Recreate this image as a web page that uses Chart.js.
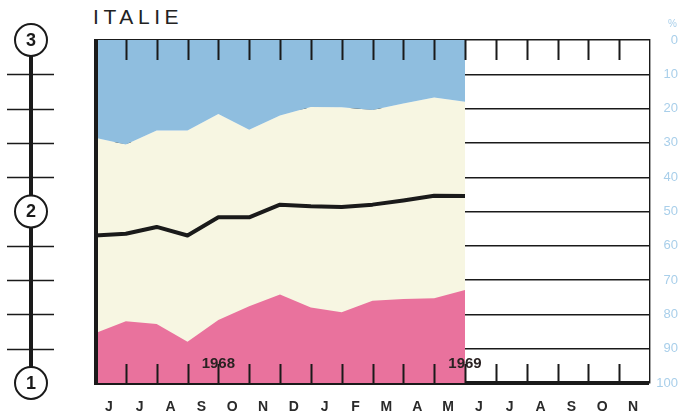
<!DOCTYPE html>
<html lang="fr">
<head>
<meta charset="UTF-8">
<title>Italie</title>
<script src="https://cdn.jsdelivr.net/npm/chart.js"></script>
<style>
body{margin:0;background:#fff;font-family:"Liberation Sans",Arial,Helvetica,sans-serif;}
.wrap{position:relative;width:691px;height:415px;}
.wrap h1{position:absolute;left:93px;top:5px;margin:0;font-size:21px;font-weight:normal;
         letter-spacing:4.6px;color:#222;line-height:24px;}
.wrap canvas{position:absolute;left:0;top:0;}
</style>
</head>
<body>
<div class="wrap">
  <h1>ITALIE</h1>
  <canvas id="c" width="691" height="415"></canvas>
</div>

<script>
Chart.defaults.animation=false;

/* ── data, x = month boundary index ──────────────────────────────── */
const MONTHS=["J","J","A","S","O","N","D","J","F","M","A","M","J","J","A","S","O","N"];
const BLUE =[28.5,30.5,26.4,26.4,21.6,26.2,22.0,19.5,19.6,20.4,18.5,16.8,18.0];  // top band lower edge
const BLACK=[57.0,56.5,54.5,57.0,51.7,51.7,48.0,48.5,48.7,48.0,46.8,45.4,45.5];
const PINK =[85.5,82.0,82.8,88.0,81.6,77.6,74.2,78.0,79.4,76.0,75.5,75.3,72.9];
const YEARS=["1968","1969"];
const YEAR_AT=[4,12];
const LEFT_LABELS=["3","2","1"];   // at 0, 50, 100 %
const Y_TICKS=[0,10,20,30,40,50,60,70,80,90,100];

const COLORS={blue:"#8fbedf",cream:"#f7f6e2",pink:"#e9729d",ink:"#1a1a1a",axis:"#a9cfea"};

const pts=arr=>arr.map((v,i)=>({x:i,y:v}));

/* ── decorations drawn from the scales ──────────────────────────── */
const deco={
  id:"deco",
  afterDraw(ch){
    const {ctx,chartArea:a,scales:{x,y}}=ch;
    ctx.save();
    // year labels
    ctx.fillStyle="#2a2222";
    ctx.font="bold 15px 'Liberation Sans',Arial,sans-serif";
    ctx.textAlign="center";ctx.textBaseline="middle";
    YEARS.forEach((t,i)=>ctx.fillText(t,x.getPixelForValue(YEAR_AT[i]),y.getPixelForValue(94.3)));
    // inner tick marks top and bottom
    ctx.strokeStyle=COLORS.ink;ctx.lineWidth=2;
    for(let i=1;i<MONTHS.length;i++){
      const px=Math.round(x.getPixelForValue(i))+0.5;
      ctx.beginPath();
      ctx.moveTo(px,a.top);ctx.lineTo(px,a.top+20);
      ctx.moveTo(px,a.bottom-19);ctx.lineTo(px,a.bottom);
      ctx.stroke();
    }
    // thick left border
    ctx.lineWidth=4;
    ctx.beginPath();ctx.moveTo(a.left+1,a.top-1);ctx.lineTo(a.left+1,a.bottom+2);ctx.stroke();
    // % sign above the right axis
    ctx.fillStyle=COLORS.axis;
    ctx.font="10px 'Liberation Sans',Arial,sans-serif";
    ctx.textAlign="right";
    ctx.fillText("%",677,y.getPixelForValue(0)-16);
    // left 1-2-3 scale
    const cx=31;
    ctx.strokeStyle=COLORS.ink;
    ctx.lineWidth=4;
    ctx.beginPath();ctx.moveTo(cx,y.getPixelForValue(0));ctx.lineTo(cx,y.getPixelForValue(100));ctx.stroke();
    ctx.lineWidth=1.6;
    Y_TICKS.forEach(v=>{
      if(v%50===0) return;
      const py=Math.round(y.getPixelForValue(v))+0.5;
      ctx.beginPath();ctx.moveTo(7,py);ctx.lineTo(54,py);ctx.stroke();
    });
    LEFT_LABELS.forEach((t,i)=>{
      const py=y.getPixelForValue(i*50);
      ctx.beginPath();ctx.arc(cx,py,16,0,Math.PI*2);
      ctx.fillStyle="#fff";ctx.fill();
      ctx.lineWidth=2;ctx.stroke();
      ctx.fillStyle=COLORS.ink;
      ctx.font="bold 18px 'Liberation Sans',Arial,sans-serif";
      ctx.textAlign="center";ctx.textBaseline="middle";
      ctx.fillText(t,cx,py+1);
    });
    ctx.restore();
  }
};

new Chart(document.getElementById("c"),{
  type:"line",
  data:{datasets:[
    {label:"cream",data:pts(BLUE),fill:{value:100},backgroundColor:COLORS.cream,borderWidth:0,pointRadius:0,order:4},
    {label:"blue", data:pts(BLUE),fill:{value:0},  backgroundColor:COLORS.blue, borderWidth:0,pointRadius:0,order:3},
    {label:"pink", data:pts(PINK),fill:{value:100},backgroundColor:COLORS.pink, borderWidth:0,pointRadius:0,order:2},
    {label:"black",data:pts(BLACK),fill:false,borderColor:COLORS.ink,borderWidth:4,
     borderJoinStyle:"round",pointRadius:0,order:1}
  ]},
  options:{
    responsive:false,
    layout:{padding:{left:95,top:40,right:13,bottom:0}},
    plugins:{legend:{display:false},tooltip:{enabled:false}},
    scales:{
      x:{
        type:"linear",min:0,max:MONTHS.length,
        afterBuildTicks:s=>{s.ticks=MONTHS.map((m,i)=>({value:i+0.45}));},
        afterFit:s=>{s.height=32;},
        grid:{display:false},border:{display:false},
        ticks:{autoSkip:false,maxRotation:0,padding:8,color:"#2a2a2a",
               font:{family:"'Liberation Sans',Arial,sans-serif",size:14,weight:"bold"},
               callback:(v,i)=>MONTHS[i]}
      },
      y:{
        position:"right",reverse:true,min:0,max:100,z:1,
        afterBuildTicks:s=>{s.ticks=Y_TICKS.map(v=>({value:v}));},
        afterFit:s=>{s.width=28;},
        grid:{color:COLORS.ink,drawTicks:false,
              lineWidth:c=>c.tick&&c.tick.value===100?4:1.4},
        border:{display:true,color:COLORS.ink,width:1.4},
        ticks:{crossAlign:"far",padding:4,color:COLORS.axis,
               font:{family:"'Liberation Sans',Arial,sans-serif",size:13}}
      }
    }
  },
  plugins:[deco]
});
</script>
</body>
</html>
